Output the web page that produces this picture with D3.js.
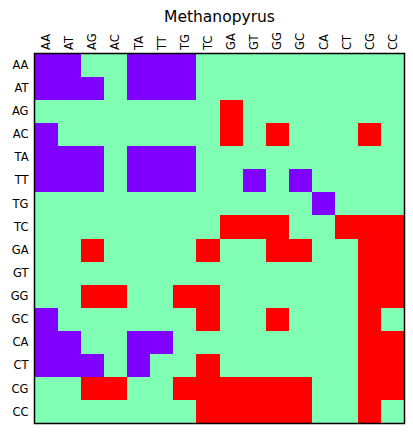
<!DOCTYPE html>
<html>
<head>
<meta charset="utf-8">
<script src="https://cdn.jsdelivr.net/npm/d3@7"></script>
<style>
  body { margin: 0; background: #fff; }
  text { font-family: "DejaVu Sans", sans-serif; }
</style>
</head>
<body>
<div id="chart"></div>
<script>
// dinucleotide labels (rows and columns share these)
const pairs = ["AA", "AT", "AG", "AC", "TA", "TT", "TG", "TC",
               "GA", "GT", "GG", "GC", "CA", "CT", "CG", "CC"];

// -1 = under-represented (purple), 0 = neutral (green), 1 = over-represented (red)
const rowAA = [-1,-1, 0, 0,-1,-1,-1, 0, 0, 0, 0, 0, 0, 0, 0, 0];
const rowAT = [-1,-1,-1, 0,-1,-1,-1, 0, 0, 0, 0, 0, 0, 0, 0, 0];
const rowAG = [ 0, 0, 0, 0, 0, 0, 0, 0, 1, 0, 0, 0, 0, 0, 0, 0];
const rowAC = [-1, 0, 0, 0, 0, 0, 0, 0, 1, 0, 1, 0, 0, 0, 1, 0];
const rowTA = [-1,-1,-1, 0,-1,-1,-1, 0, 0, 0, 0, 0, 0, 0, 0, 0];
const rowTT = [-1,-1,-1, 0,-1,-1,-1, 0, 0,-1, 0,-1, 0, 0, 0, 0];
const rowTG = [ 0, 0, 0, 0, 0, 0, 0, 0, 0, 0, 0, 0,-1, 0, 0, 0];
const rowTC = [ 0, 0, 0, 0, 0, 0, 0, 0, 1, 1, 1, 0, 0, 1, 1, 1];
const rowGA = [ 0, 0, 1, 0, 0, 0, 0, 1, 0, 0, 1, 1, 0, 0, 1, 1];
const rowGT = [ 0, 0, 0, 0, 0, 0, 0, 0, 0, 0, 0, 0, 0, 0, 1, 1];
const rowGG = [ 0, 0, 1, 1, 0, 0, 1, 1, 0, 0, 0, 0, 0, 0, 1, 1];
const rowGC = [-1, 0, 0, 0, 0, 0, 0, 1, 0, 0, 1, 0, 0, 0, 1, 0];
const rowCA = [-1,-1, 0, 0,-1,-1, 0, 0, 0, 0, 0, 0, 0, 0, 1, 1];
const rowCT = [-1,-1,-1, 0,-1, 0, 0, 1, 0, 0, 0, 0, 0, 0, 1, 1];
const rowCG = [ 0, 0, 1, 1, 0, 0, 1, 1, 1, 1, 1, 1, 0, 0, 1, 1];
const rowCC = [ 0, 0, 0, 0, 0, 0, 0, 1, 1, 1, 1, 1, 0, 0, 1, 0];

const matrix = [rowAA, rowAT, rowAG, rowAC, rowTA, rowTT, rowTG, rowTC,
                rowGA, rowGT, rowGG, rowGC, rowCA, rowCT, rowCG, rowCC];

const width = 413, height = 434;
const margin = { top: 53.5, right: 8.5, bottom: 10.5, left: 34.5 };

const svg = d3.select("#chart").append("svg")
    .attr("width", width)
    .attr("height", height);

const x = d3.scaleBand().domain(pairs).range([margin.left, width - margin.right]);
const y = d3.scaleBand().domain(pairs).range([margin.top, height - margin.bottom]);

const color = d3.scaleOrdinal()
    .domain([-1, 0, 1])
    .range(["#8000ff", "#80ffb4", "#ff0000"]);

// cells
const cells = [];
matrix.forEach((row, i) => row.forEach((v, j) => cells.push({ r: pairs[i], c: pairs[j], v })));

svg.append("g")
    .attr("shape-rendering", "crispEdges")
  .selectAll("rect")
  .data(cells)
  .enter()
  .append("rect")
    .attr("x", d => x(d.c))
    .attr("y", d => y(d.r))
    .attr("width", x.bandwidth() + 0.5)
    .attr("height", y.bandwidth() + 0.5)
    .attr("fill", d => color(d.v));

// top axis, labels rotated (no tick marks visible in the original)
const topAxis = svg.append("g")
    .attr("transform", `translate(0,${margin.top})`)
    .call(d3.axisTop(x).tickSize(0).tickPadding(3.5));
topAxis.select(".domain").remove();
topAxis.selectAll("text")
    .attr("font-size", 11.5)
    .attr("fill", "#000")
    .attr("transform", "rotate(-90)")
    .attr("text-anchor", "start")
    .attr("x", 3.5)
    .attr("y", 0)
    .attr("dy", "0.35em");

// left axis
const leftAxis = svg.append("g")
    .attr("transform", `translate(${margin.left},0)`)
    .call(d3.axisLeft(y).tickSize(0).tickPadding(6));
leftAxis.select(".domain").remove();
leftAxis.selectAll("text")
    .attr("font-size", 11.5)
    .attr("fill", "#000");

// frame
svg.append("rect")
    .attr("x", margin.left)
    .attr("y", margin.top)
    .attr("width", width - margin.left - margin.right)
    .attr("height", height - margin.top - margin.bottom)
    .attr("fill", "none")
    .attr("stroke", "#000")
    .attr("stroke-width", 1.5);

// title
svg.append("text")
    .attr("x", (margin.left + width - margin.right) / 2)
    .attr("y", 21.5)
    .attr("text-anchor", "middle")
    .attr("font-size", 15.5)
    .attr("fill", "#000")
    .text("Methanopyrus");
</script>
</body>
</html>
